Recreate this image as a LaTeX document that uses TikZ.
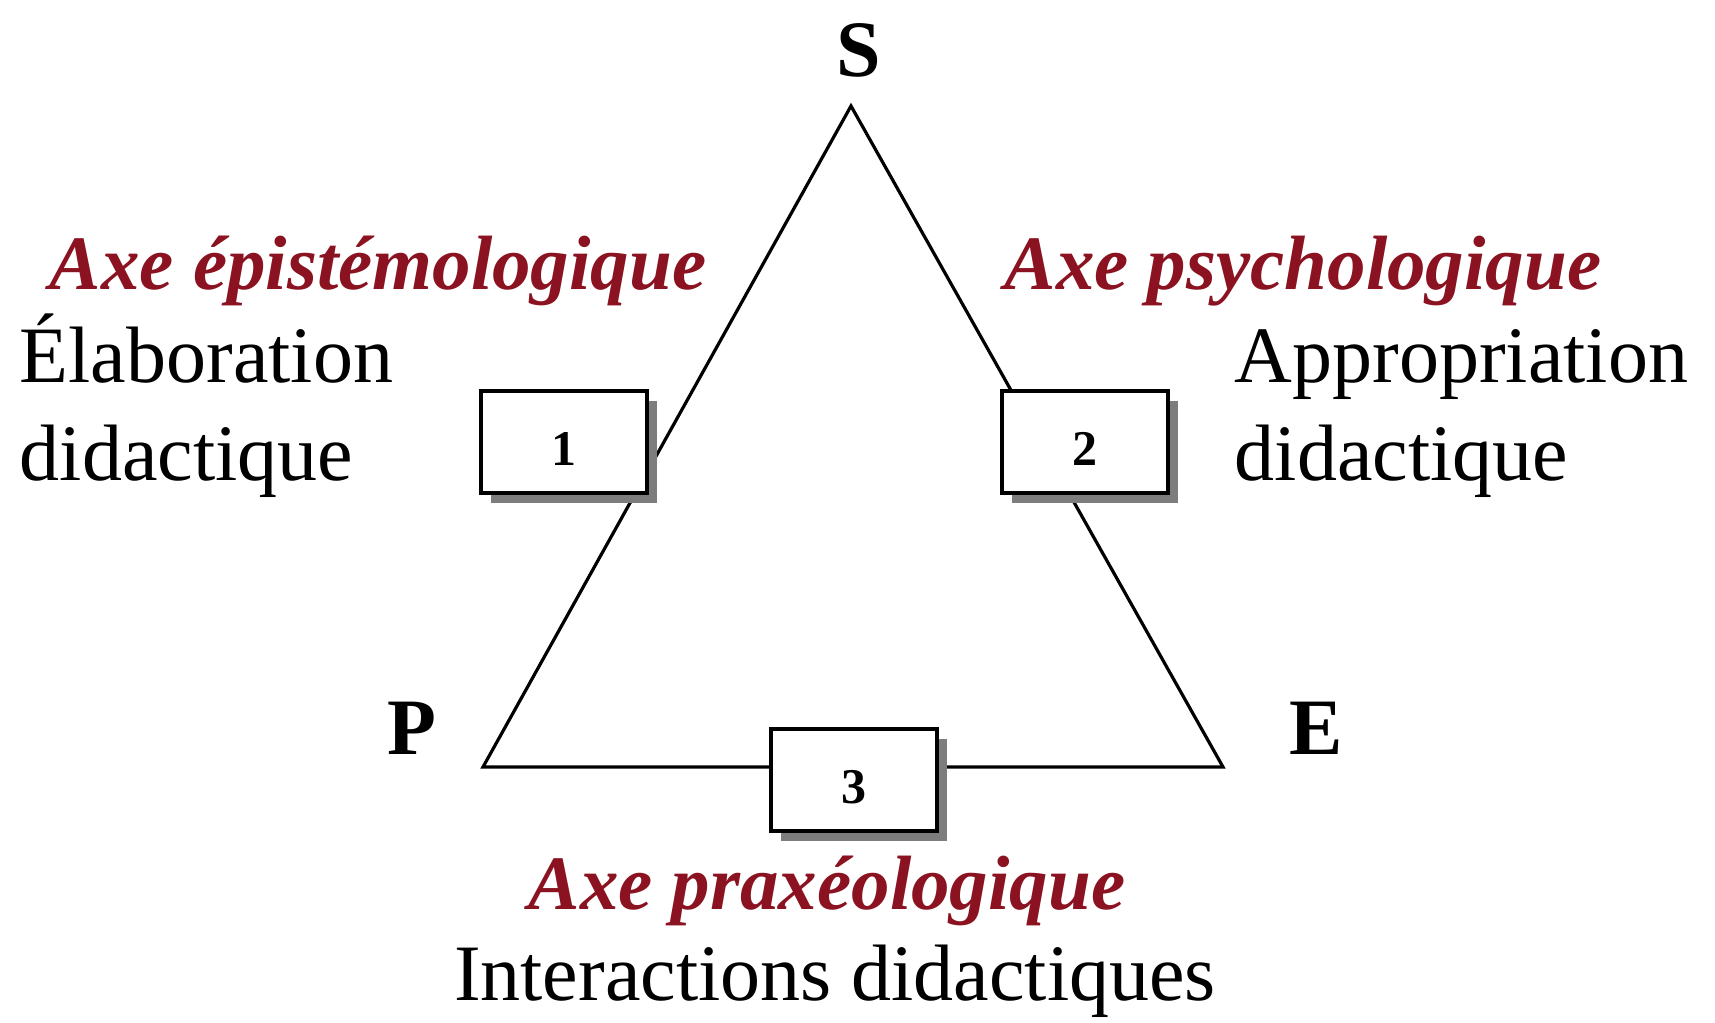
\documentclass[tikz,border=0pt]{standalone}
\usepackage{fontspec}
\setmainfont{Liberation Serif}
\usepackage{xcolor}
\usepackage{tikz}
\usetikzlibrary{shadows}
\definecolor{axered}{RGB}{139,18,32}
\definecolor{shadowgray}{RGB}{125,125,125}

\begin{document}
\begin{tikzpicture}[%
		x=0.25pt, y=-0.25pt,
		vertex/.style={font=\fontsize{20}{24}\selectfont\bfseries, inner sep=0pt, anchor=base},
		axis/.style={font=\fontsize{19.25}{23}\selectfont\bfseries\itshape, text=axered, inner sep=0pt, anchor=base},
		role/.style={font=\fontsize{20}{24}\selectfont, inner sep=0pt, anchor=base west},
		numbox/.style={draw, line width=0.85pt, fill=white, minimum width=41.5pt, minimum height=25.5pt,
			inner sep=0pt, text height=12pt, text depth=0pt, font=\fontsize{12.5}{14}\selectfont\bfseries,
			drop shadow={shadow xshift=2.5pt, shadow yshift=-2.5pt, fill=shadowgray, opacity=1}}]
		\useasboundingbox (0,0) rectangle (1715,1023);
		\coordinate (s) at (851,106);
		\coordinate (p) at (483,767);
		\coordinate (e) at (1223,767);
		\draw[line width=0.8pt] (s) -- (p) -- (e) -- cycle;
		\node[vertex] (S) at (859,77) {S};
		\node[vertex] (P) at (412,755) {P};
		\node[vertex] (E) at (1316,755) {E};
		\node[numbox] (box1) at (564,442) {1};
		\node[numbox] (box2) at (1085,442) {2};
		\node[numbox] (box3) at (854,780) {3};
		\node[axis] (episteme) at (378,290) {Axe épistémologique};
		\node[role] (elab) at (19,383) {Élaboration};
		\node[role] (elabdid) at (19,481) {didactique};
		\node[axis] (psycho) at (1303,290) {Axe psychologique};
		\node[role] (appro) at (1234,383) {Appropriation};
		\node[role] (approdid) at (1234,481) {didactique};
		\node[axis] (praxeo) at (827,910) {Axe praxéologique};
		\node[role, anchor=base] (inter) at (835,1001) {Interactions didactiques};
	\end{tikzpicture}
\end{document}
